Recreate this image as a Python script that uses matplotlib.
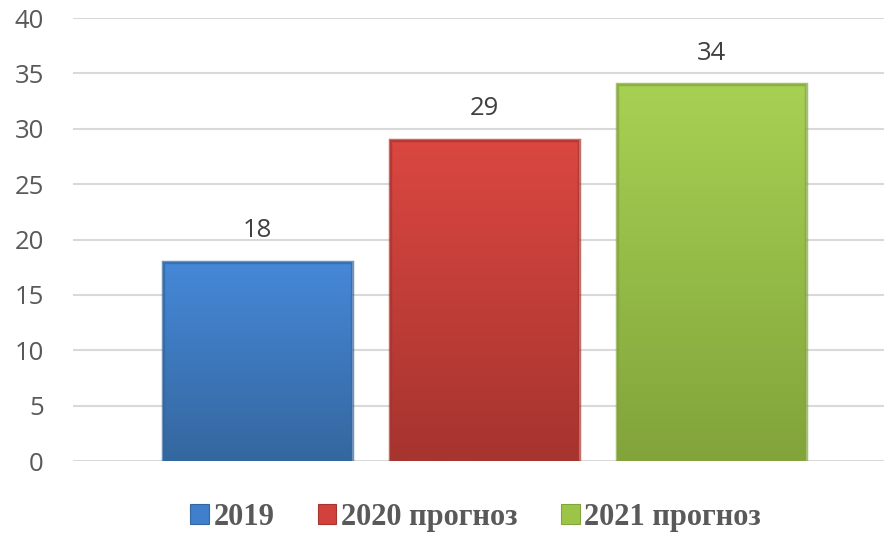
import numpy as np
import matplotlib
matplotlib.use('Agg')
import matplotlib.pyplot as plt
from matplotlib.patches import Patch
from matplotlib.colors import LinearSegmentedColormap

# данные
years = ['2019', '2020 прогноз', '2021 прогноз']
values = [18, 29, 34]
colors = ['#3f7fcc', '#d2413c', '#9cc548']
light = ['#4688d8', '#db4741', '#a7d153']
dark = ['#34679f', '#a6342f', '#82a43b']

fig = plt.figure(figsize=(8.84, 5.38), dpi=100)
ax = fig.add_axes([0.0826, 0.1431, 0.9174, 0.8234])

x = np.arange(len(values))
bars = ax.bar(x, values, width=0.83, color=colors, zorder=2)

# градиент на столбцах
for b, c1, c2 in zip(bars, light, dark):
    cmap = LinearSegmentedColormap.from_list('g', [c2, c1])
    grad = np.linspace(0, 1, 256).reshape(-1, 1)
    bx, by = b.get_x(), b.get_y()
    im = ax.imshow(grad, cmap=cmap, aspect='auto', origin='lower',
                   extent=[bx, bx + b.get_width(), by, by + b.get_height()], zorder=3)
    im.set_clip_path(b)
    # тень по краям
    ax.bar(b.get_x() + b.get_width() / 2, b.get_height(), width=b.get_width(),
           fill=False, edgecolor=c2, linewidth=2.5, zorder=4, alpha=0.7)

for xi, v in zip(x, values):
    ax.text(xi, v + 2.8, str(v), ha='center', va='center', fontsize=18.5,
            color='#404040', family='Open Sans')

ax.set_xlim(-0.813, 2.76)
ax.set_ylim(0, 40)
ax.set_yticks(range(0, 41, 5))
ax.set_xticks([])
ax.yaxis.grid(True, color='#d9d9d9', linewidth=1.5, zorder=0)
ax.tick_params(axis='y', length=0, pad=21, labelsize=18.5, labelcolor='#595959')
for lab in ax.get_yticklabels():
    lab.set_family('Open Sans')
for s in ax.spines.values():
    s.set_visible(False)

handles = [Patch(facecolor=c, edgecolor=d, linewidth=0.8) for c, d in zip(colors, dark)]
leg = fig.legend(handles, years, loc='center', bbox_to_anchor=(0.538, 0.039), ncol=3,
                 frameon=False, handlelength=0.62, handleheight=0.62, handletextpad=0.16,
                 columnspacing=1.4, borderpad=0,
                 prop={'family': 'Liberation Serif', 'weight': 'bold', 'size': 22})
for t in leg.get_texts():
    t.set_color('#595959')

fig.savefig('out.png', dpi=100)
